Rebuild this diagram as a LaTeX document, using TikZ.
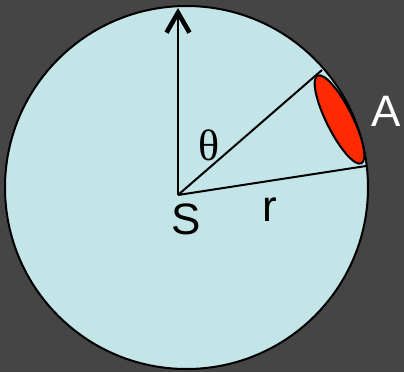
\documentclass[tikz,border=0pt]{standalone}
\usepackage{fontspec}
\setmainfont{Liberation Sans}
\newfontfamily\thetafont{Liberation Serif}
\usepackage{xcolor}
\usepackage{tikz}
\usetikzlibrary{shapes.geometric,arrows.meta}
\definecolor{slatebg}{RGB}{69,69,69}
\definecolor{skyfill}{RGB}{196,229,232}
\definecolor{patchred}{RGB}{255,42,0}

\begin{document}
\begin{tikzpicture}[
    x=0.5pt, y=-0.5pt,
    radial/.style={line width=1pt},
    lbl/.style={anchor=base, inner sep=0pt, font=\fontsize{22}{24}\selectfont},
    patch/.style={ellipse, draw, line width=1pt, fill=patchred, minimum width=49pt, minimum height=13pt, inner sep=0pt, rotate=-63.4}
]

% Background
\fill[slatebg] (0,0) rectangle (404,372);
\useasboundingbox (0,0) rectangle (404,372);

% Sphere
\draw[line width=1pt, fill=skyfill] (186.5,187.5) circle (90.75pt);

% Points
\coordinate (S) at (178,195);
\coordinate (top) at (178,8);
\coordinate (rimup) at (322,70);
\coordinate (rimlow) at (366,166);

% Radial lines
\draw[radial, -{Straight Barb[length=10pt, width=11.5pt, line width=2.3pt]}] (S) -- (top);
\draw[radial] (S) -- (rimup);
\draw[radial] (S) -- (rimlow);

% Area patch
\node[patch] (area) at (339.5,119.5) {};

% Labels
\node[lbl] (theta) at (209,160) {\thetafont θ};
\node[lbl] (Slbl) at (186,234) {S};
\node[lbl] (rlbl) at (270,221) {r};
\node[lbl, text=white] (Albl) at (386,126) {A};

\end{tikzpicture}
\end{document}
